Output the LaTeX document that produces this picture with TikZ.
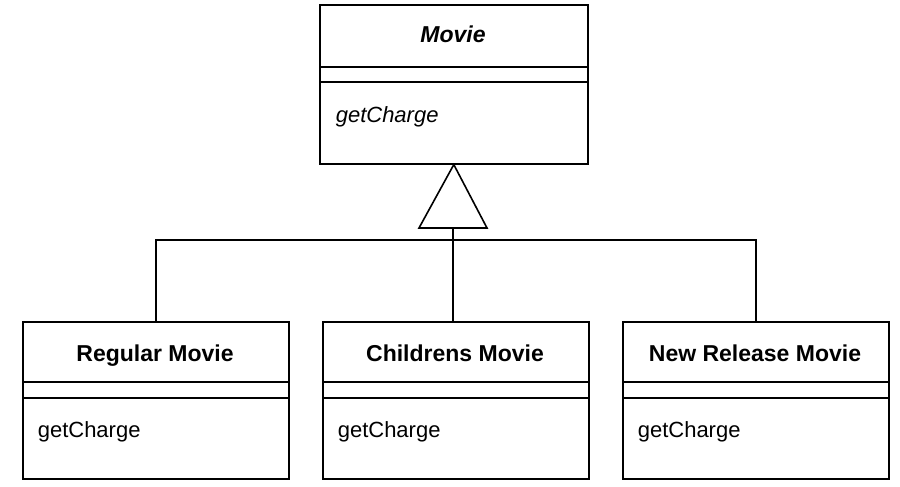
\documentclass[tikz,border=0pt]{standalone}
\usepackage{fontspec}
\setmainfont{Liberation Sans}
\begin{document}
\begin{tikzpicture}[x=1pt,y=-1pt,line width=1.6pt,
  cls/.style={draw,rectangle,minimum width=266pt,minimum height=157pt,inner sep=0pt,anchor=north west},
  ttl/.style={font=\fontsize{23}{27}\selectfont\bfseries,anchor=base,inner sep=0pt},
  op/.style={font=\fontsize{22}{26}\selectfont,anchor=base west,inner sep=0pt}]
\useasboundingbox (0,0) rectangle (900,487);
% superclass
\node[cls,minimum width=268pt,minimum height=159pt] (movie) at (319,4) {};
\draw ([yshift=-63pt]movie.north west) -- ([yshift=-63pt]movie.north east);
\draw ([yshift=-78pt]movie.north west) -- ([yshift=-78pt]movie.north east);
\node[ttl,font=\fontsize{23}{27}\selectfont\bfseries\itshape] (movieT) at (453,43) {Movie};
\node[op,font=\fontsize{22}{26}\selectfont\itshape] (movieO) at (335,122) {getCharge};
% subclasses
\node[cls] (regular) at (22,321) {};
\node[cls] (children) at (322,321) {};
\node[cls] (newrel) at (622,321) {};
\foreach \n in {regular,children,newrel}{
  \draw ([yshift=-61pt]\n.north west) -- ([yshift=-61pt]\n.north east);
  \draw ([yshift=-77pt]\n.north west) -- ([yshift=-77pt]\n.north east);
}
\node[ttl] (regularT) at (155,361) {Regular Movie};
\node[ttl] (childrenT) at (455,361) {Childrens Movie};
\node[ttl] (newrelT) at (755,361) {New Release Movie};
\node[op] (regularO) at (37,437) {getCharge};
\node[op] (childrenO) at (337,437) {getCharge};
\node[op] (newrelO) at (637,437) {getCharge};
% generalization
\coordinate (tip) at (movie.south);
\coordinate (tb) at (453,228);
\coordinate (junction) at (453,240);
\draw[fill=white] (tip) -- ([xshift=-34pt]tb) -- ([xshift=34pt]tb) -- cycle;
\draw (tb) -- (junction);
\draw (junction) -- (junction |- children.north);
\draw (regular.north) |- (junction) -| (newrel.north);
\end{tikzpicture}
\end{document}
